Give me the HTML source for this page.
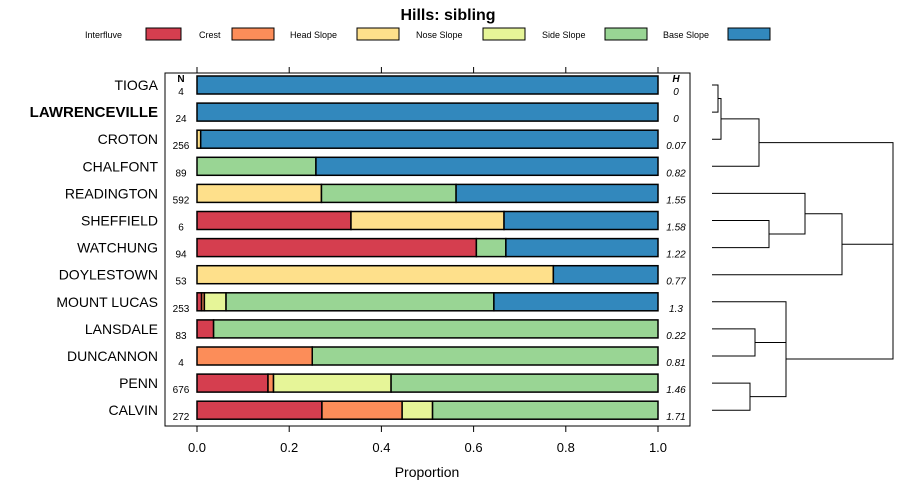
<!DOCTYPE html>
<html><head><meta charset="utf-8"><style>
body{margin:0;background:#fff;}
svg{display:block;font-family:"Liberation Sans",sans-serif;}
</style></head><body>
<svg id="c" width="900" height="500">
<text x="448" y="20" text-anchor="middle" font-size="16" font-weight="bold">Hills: sibling</text>
<g id="legend"></g>
<rect x="165" y="73" width="525" height="353" fill="none" stroke="#000" stroke-width="1"/>
<text x="181" y="82" text-anchor="middle" font-size="10" font-weight="bold">N</text>
<text x="676" y="82" text-anchor="middle" font-size="10" font-weight="bold" font-style="italic">H</text>
<g id="bars"></g>
<g id="axis"></g>
<text x="427" y="477" text-anchor="middle" font-size="14">Proportion</text>
<g id="dendro" stroke="#000" fill="none" stroke-width="1"></g>
</svg>
<script>
const classes=["Interfluve","Crest","Head Slope","Nose Slope","Side Slope","Base Slope"];
const colors=["#D53E4F","#FC8D59","#FEE08B","#E6F598","#99D594","#3288BD"];
const soils=["TIOGA","LAWRENCEVILLE","CROTON","CHALFONT","READINGTON","SHEFFIELD","WATCHUNG","DOYLESTOWN","MOUNT LUCAS","LANSDALE","DUNCANNON","PENN","CALVIN"];
const nVals=[4,24,256,89,592,6,94,53,253,83,4,676,272];
const hVals=["0","0","0.07","0.82","1.55","1.58","1.22","0.77","1.3","0.22","0.81","1.46","1.71"];
const interfluve=[0,0,0,0,0,0.334,0.606,0,0.010,0.036,0,0.154,0.271];
const crest=[0,0,0,0,0,0,0,0,0.006,0,0.25,0.012,0.174];
const headSlope=[0,0,0.008,0,0.27,0.332,0,0.773,0,0,0,0,0];
const noseSlope=[0,0,0,0,0,0,0,0,0.047,0,0,0.255,0.066];
const sideSlope=[0,0,0,0.258,0.292,0,0.064,0,0.581,0.964,0.75,0.579,0.489];
const baseSlope=[1,1,0.992,0.742,0.438,0.334,0.330,0.227,0.356,0,0,0,0];
const xTicks=[0,0.2,0.4,0.6,0.8,1.0];
const tickLabels=["0.0","0.2","0.4","0.6","0.8","1.0"];
const series=[interfluve,crest,headSlope,noseSlope,sideSlope,baseSlope];
const NS="http://www.w3.org/2000/svg";
const X0=197,X1=658;const xs=v=>X0+v*(X1-X0);
const ys=i=>85+i*27.1;
function mk(tag,attrs,parent){const e=document.createElementNS(NS,tag);for(const k in attrs)e.setAttribute(k,attrs[k]);parent.appendChild(e);return e;}
const leg=document.getElementById('legend');
const legText=[85,199,290,416,542,663],legRect=[146,232,357,483,605,728],legW=[35,42,42,42,42,42];
classes.forEach((c,i)=>{
 const t=mk('text',{x:legText[i],y:38,'font-size':9},leg);t.textContent=c;
 
 
 const r=mk('rect',{x:legRect[i],y:28,width:legW[i],height:12,fill:colors[i],stroke:'#000'},leg);
 
 
});
const bars=document.getElementById('bars');
soils.forEach((s,i)=>{
 const y=ys(i);
 const bold=s==='LAWRENCEVILLE';
 const lab=mk('text',{x:158,y:y+5,'text-anchor':'end','font-size':bold?15:14,'font-weight':bold?'bold':'normal'},bars);
 lab.textContent=s;
 
 
 const n=mk('text',{x:181,y:y+10,'text-anchor':'middle','font-size':10},bars);n.textContent=nVals[i];
 
 
 const h=mk('text',{x:676,y:y+10,'text-anchor':'middle','font-size':10,'font-style':'italic'},bars);h.textContent=hVals[i];
 
 
 let cum=0;
 series.forEach((ser,k)=>{
  const v=ser[i];if(v<=0)return;
  const r=mk('rect',{x:xs(cum),y:y-9,width:xs(cum+v)-xs(cum),height:18,fill:colors[k],stroke:'#000','stroke-width':1.5},bars);
  
  
  cum+=v;
 });
});
const ax=document.getElementById('axis');
xTicks.forEach((t,i)=>{
 const x=xs(t);
 mk('line',{x1:x,x2:x,y1:426,y2:432,stroke:'#000'},ax);
 mk('line',{x1:x,x2:x,y1:67,y2:73,stroke:'#000'},ax);
 const l=mk('text',{x:x,y:452,'text-anchor':'middle','font-size':13},ax);l.textContent=tickLabels[i];
 
 
});
const d=document.getElementById('dendro');
function p(pts){mk('polyline',{points:pts.map(q=>q.join(',')).join(' ')},d);}
const L=712,Y=ys;
p([[L,Y(0)],[718,Y(0)],[718,Y(1)],[L,Y(1)]]);
const a=(Y(0)+Y(1))/2;
p([[718,a],[721,a],[721,Y(2)],[L,Y(2)]]);
const b=(a+Y(2))/2;
p([[721,b],[759,b],[759,Y(3)],[L,Y(3)]]);
const c1=(b+Y(3))/2;
p([[L,Y(5)],[769,Y(5)],[769,Y(6)],[L,Y(6)]]);
const e=(Y(5)+Y(6))/2;
p([[L,Y(4)],[805,Y(4)],[805,e],[769,e]]);
const f=(Y(4)+e)/2;
p([[805,f],[842,f],[842,Y(7)],[L,Y(7)]]);
const g=(f+Y(7))/2;
p([[L,Y(9)],[755,Y(9)],[755,Y(10)],[L,Y(10)]]);
const hh=(Y(9)+Y(10))/2;
p([[L,Y(11)],[750,Y(11)],[750,Y(12)],[L,Y(12)]]);
const k=(Y(11)+Y(12))/2;
p([[L,Y(8)],[786,Y(8)],[786,k],[750,k]]);
p([[755,hh],[786,hh]]);
const m=359;
p([[759,c1],[893,c1],[893,m],[786,m]]);
p([[842,g],[893,g]]);
</script>
</body></html>
